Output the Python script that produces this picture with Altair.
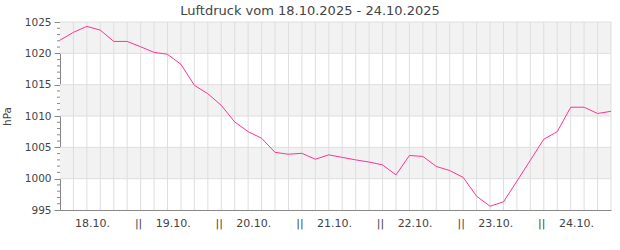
import altair as alt
import pandas as pd

TITLE = "Luftdruck vom 18.10.2025 - 24.10.2025"

# hours since 18.10.2025 00:00, one reading every 4 hours
hours = list(range(0, 165, 4))
pressure = [1022.1, 1023.35, 1024.3, 1023.7, 1021.9, 1021.9, 1021.05, 1020.15, 1019.85, 1018.25,
            1014.9, 1013.55, 1011.7, 1009.05, 1007.5, 1006.45, 1004.2, 1003.9, 1004.05, 1003.1,
            1003.8, 1003.4, 1003.0, 1002.65, 1002.2, 1000.6, 1003.7, 1003.55, 1001.95, 1001.3,
            1000.2, 997.2, 995.6, 996.3, 999.6, 1002.95, 1006.3, 1007.5, 1011.4, 1011.4, 1010.4, 1010.75]

day_labels = ["18.10.", "19.10.", "20.10.", "21.10.", "22.10.", "23.10.", "24.10."]
day_label_hours = [24 * i + 9.7 for i in range(len(day_labels))]
sep_hours = [24 * i - 0.6 for i in range(1, 7)]

band_lo = [1000, 1010, 1020]
band_hi = [1005, 1015, 1025]

major_ticks = [995, 1000, 1005, 1010, 1015, 1020, 1025]
minor_ticks = [v for v in range(996, 1025) if v % 5 != 0]
grid_hours = list(range(4, 165, 4))

W, H = 551, 188
FONT = "DejaVu Sans"
TXT = "#444444"
GRID = "#dedede"
AXIS = "#888888"

xscale = alt.Scale(domain=[0, 164], nice=False, zero=False)
yscale = alt.Scale(domain=[995, 1025], nice=False, zero=False)

xaxis = alt.Axis(values=grid_hours, labels=False, ticks=False, title=None, grid=False,
                 domainColor=AXIS)
yaxis = alt.Axis(values=major_ticks, format="d", title="hPa", labelOverlap=False,
                 grid=False, tickSize=6, tickColor=AXIS, domainColor=AXIS,
                 labelFontSize=10.5, labelColor=TXT, labelPadding=3,
                 titleFontSize=10.5, titleFontWeight="normal", titleColor=TXT,
                 titlePadding=12)

df = pd.DataFrame({"h": hours, "p": pressure})
bands = pd.DataFrame({"lo": band_lo, "hi": band_hi})

band_layer = alt.Chart(bands).mark_rect(color="#f2f2f2").encode(
    x=alt.value(0), x2=alt.value(W),
    y=alt.Y("lo:Q", scale=yscale, axis=yaxis),
    y2="hi:Q",
)

vgrid_layer = alt.Chart(pd.DataFrame({"g": grid_hours})).mark_rule(
    color=GRID, strokeWidth=1).encode(
    x=alt.X("g:Q", scale=xscale, axis=xaxis), y=alt.value(0), y2=alt.value(H),
)

hgrid_layer = alt.Chart(pd.DataFrame({"v": major_ticks[1:]})).mark_rule(
    color=GRID, strokeWidth=1).encode(
    y=alt.Y("v:Q", scale=yscale, axis=yaxis), x=alt.value(0), x2=alt.value(W),
)

line_layer = alt.Chart(df).mark_line(color="#ff3399", strokeWidth=1).encode(
    x=alt.X("h:Q", scale=xscale, axis=xaxis),
    y=alt.Y("p:Q", scale=yscale, axis=yaxis),
)

minor_layer = alt.Chart(pd.DataFrame({"m": minor_ticks})).mark_rule(color=AXIS).encode(
    x=alt.value(-3), x2=alt.value(0), y=alt.Y("m:Q", scale=yscale, axis=yaxis),
)

lab_df = pd.DataFrame({"h": day_label_hours + sep_hours,
                       "t": day_labels + ["||"] * len(sep_hours)})
label_layer = alt.Chart(lab_df).mark_text(
    font=FONT, fontSize=11, color=TXT, baseline="middle", align="center").encode(
    x=alt.X("h:Q", scale=xscale, axis=xaxis), y=alt.value(H + 14), text="t:N",
)

title_layer = alt.Chart(pd.DataFrame({"t": [TITLE]})).mark_text(
    font=FONT, fontSize=13, color=TXT, baseline="middle", align="center").encode(
    x=alt.value(310 - 60), y=alt.value(-11), text="t:N",
)

chart = alt.layer(band_layer, vgrid_layer, hgrid_layer, line_layer, minor_layer,
                  label_layer, title_layer).properties(
    width=W, height=H, autosize=alt.AutoSizeParams(type="none"),
    padding={"left": 60, "top": 22, "right": 9, "bottom": 40},
).configure(font=FONT).configure_view(stroke=None).configure_axis(labelOverlap=False)

chart.save("out.html", embed_options={"renderer": "svg", "actions": False})
